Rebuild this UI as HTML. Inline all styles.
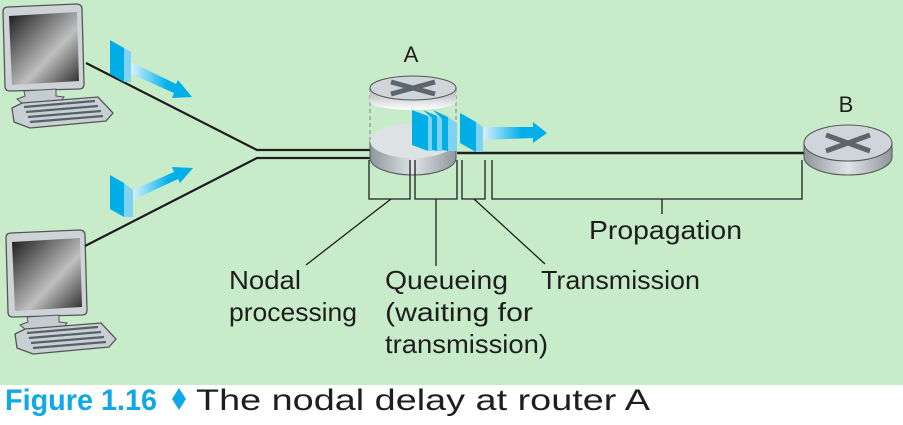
<!DOCTYPE html>
<html><head><meta charset="utf-8"><style>
html,body{margin:0;padding:0;background:#fff;}
svg{display:block;}
text{font-family:"Liberation Sans",sans-serif;fill:#1e1e1e;}
</style></head><body>
<svg width="903" height="425" viewBox="0 0 903 425" xmlns="http://www.w3.org/2000/svg">
<defs>
<linearGradient id="scr" x1="0" y1="0" x2="1" y2="1">
<stop offset="0" stop-color="#1a1a1a"/><stop offset="0.6" stop-color="#bfbfbf"/><stop offset="1" stop-color="#2a2a2a"/></linearGradient>
<linearGradient id="body" x1="0" y1="0" x2="1" y2="0">
<stop offset="0" stop-color="#8e979c"/><stop offset="0.5" stop-color="#dfe3e6"/><stop offset="1" stop-color="#8e979c"/></linearGradient>
<linearGradient id="topband" x1="0" y1="0" x2="0" y2="1">
<stop offset="0" stop-color="#a9b0b4"/><stop offset="1" stop-color="#ffffff"/></linearGradient>
<linearGradient id="arr" x1="0" y1="0" x2="1" y2="0">
<stop offset="0" stop-color="#d8f0fb"/><stop offset="0.6" stop-color="#00b0ea"/><stop offset="1" stop-color="#00aee8"/></linearGradient>
<g id="comp">
<path d="M3,12 Q3,7 8,7 L76,4 Q82,4 82,9 L84,84 Q84,89 79,89 L10,91 Q5,91 5,86 Z" fill="#cdd3d7" stroke="#555" stroke-width="1.3"/>
<path d="M9,16 L77,12 L79,81 L12,85 Z" fill="url(#scr)"/>
<path d="M24,91 L56,89 L56,96 L64,97 L60,102 L22,103 L17,99 L25,96 Z" fill="#c5ccd0" stroke="#555" stroke-width="1"/>
<path d="M12,108 L22,103 L98,97 L113,113 L106,121 L30,128 L14,122 Z" fill="#c9d0d4" stroke="#555" stroke-width="1.3"/>
<path d="M24,107 L95,101 M26,112 L98,106 M28,117 L101,111 M30,122 L103,116" stroke="#56626a" stroke-width="2.2"/>
</g>
</defs>
<rect x="0" y="0" width="903" height="385" fill="#c8ecca"/>

<use href="#comp" x="0" y="0"/>
<use href="#comp" x="3" y="226"/>

<path d="M86,63 L257,150 L372,150 M85,246 L257,158 L372,158" fill="none" stroke="#1e1e1e" stroke-width="2.2"/>
<path d="M457,153 L806,153" stroke="#1e1e1e" stroke-width="2.5"/>

<path d="M110,40 L124,48 L124,82 L110,74 Z" fill="#00ade6"/>
<path d="M124,48 L131,52 L131,82 L124,82 Z" fill="#7fd3f2"/>
<path d="M131,62 L176,84 L178,80 L192,97 L172,98 L174,93 L131,74 Z" fill="url(#arr)"/>
<path d="M110,175 L124,183 L124,217 L110,209 Z" fill="#00ade6"/>
<path d="M124,183 L133,190 L133,217 L124,217 Z" fill="#7fd3f2"/>
<path d="M133,190 L174,172 L172,167 L193,168 L180,183 L178,179 L133,200 Z" fill="url(#arr)"/>

<!-- router A -->
<path d="M370,141 L370,158 A43,17 0 0 0 456,158 L456,141 Z" fill="url(#body)" stroke="#555" stroke-width="1"/>
<ellipse cx="413" cy="141" rx="43" ry="17" fill="#dde2e5"/>
<path d="M370,88 L370,140 M456,88 L456,140" stroke="#9aa0a4" stroke-width="1.5" stroke-dasharray="4,3"/>
<path d="M370,88 L370,102 A43,8 0 0 0 456,102 L456,88 Z" fill="url(#topband)"/>
<ellipse cx="413" cy="88" rx="43" ry="12" fill="#cfd5d9" stroke="#555" stroke-width="1"/>
<path d="M391,82 L435,94 M435,82 L391,94" stroke="#5c666c" stroke-width="5"/>
<text x="411" y="62" font-size="22" text-anchor="middle">A</text>

<g>
<path d="M412,110 L428,116 L428,151 L412,145 Z" fill="#00ade6"/><path d="M428,116 L432,118 L432,151 L428,151 Z" fill="#7fd3f2"/>
<path d="M423,110 L437,116 L437,151 L432,150 L432,118 Z" fill="#00ade6"/><path d="M437,116 L442,119 L442,151 L437,151 Z" fill="#7fd3f2"/>
<path d="M433,110 L448,117 L448,151 L442,150 L442,119 Z" fill="#00ade6"/><path d="M448,117 L457,123 L457,151 L448,151 Z" fill="#7fd3f2"/>
</g>
<path d="M460,113 L476,122 L476,152 L460,143 Z" fill="#00ade6"/>
<path d="M476,122 L483,127 L483,152 L476,152 Z" fill="#7fd3f2"/>
<path d="M483,127 L533,127 L533,122 L547,133 L533,143 L533,138 L483,140 Z" fill="url(#arr)"/>

<!-- router B -->
<path d="M804,143 L804,157 A44,18 0 0 0 892,157 L892,143 Z" fill="url(#body)" stroke="#555" stroke-width="1"/>
<ellipse cx="848" cy="143" rx="44" ry="18" fill="#cfd5d9" stroke="#555" stroke-width="1"/>
<path d="M826,135 L870,151 M870,135 L826,151" stroke="#5c666c" stroke-width="5"/>
<text x="846" y="112" font-size="22" text-anchor="middle">B</text>

<g fill="none" stroke="#1e1e1e" stroke-width="1.3">
<path d="M369,160 L369,199 L410,199 L410,160"/>
<path d="M415,160 L415,199 L457,199 L457,160"/>
<path d="M462,160 L462,199 L485,199 L485,160"/>
<path d="M492,160 L492,199 L802,199 L802,160"/>
<path d="M391,199 L306,265"/>
<path d="M436,199 L436,266"/>
<path d="M474,199 L545,264"/>
<path d="M662,199 L662,214"/>
</g>

<g font-size="26">
<text x="229" y="289" textLength="72" lengthAdjust="spacingAndGlyphs">Nodal</text>
<text x="229" y="321" textLength="128" lengthAdjust="spacingAndGlyphs">processing</text>
<text x="385" y="289" textLength="123" lengthAdjust="spacingAndGlyphs">Queueing</text>
<text x="385" y="321" textLength="148" lengthAdjust="spacingAndGlyphs">(waiting for</text>
<text x="385" y="353" textLength="163" lengthAdjust="spacingAndGlyphs">transmission)</text>
<text x="541" y="289" textLength="159" lengthAdjust="spacingAndGlyphs">Transmission</text>
<text x="589" y="239" textLength="153" lengthAdjust="spacingAndGlyphs">Propagation</text>
</g>

<text x="5" y="410" font-size="30" font-weight="bold" style="fill:#10a8e6" textLength="152" lengthAdjust="spacingAndGlyphs">Figure 1.16</text>
<path d="M179,388 L186,399 L179,410 L172,399 Z" fill="#10a8e6"/>
<text x="196" y="410" font-size="30" textLength="454" lengthAdjust="spacingAndGlyphs">The nodal delay at router A</text>
</svg>
</body></html>
